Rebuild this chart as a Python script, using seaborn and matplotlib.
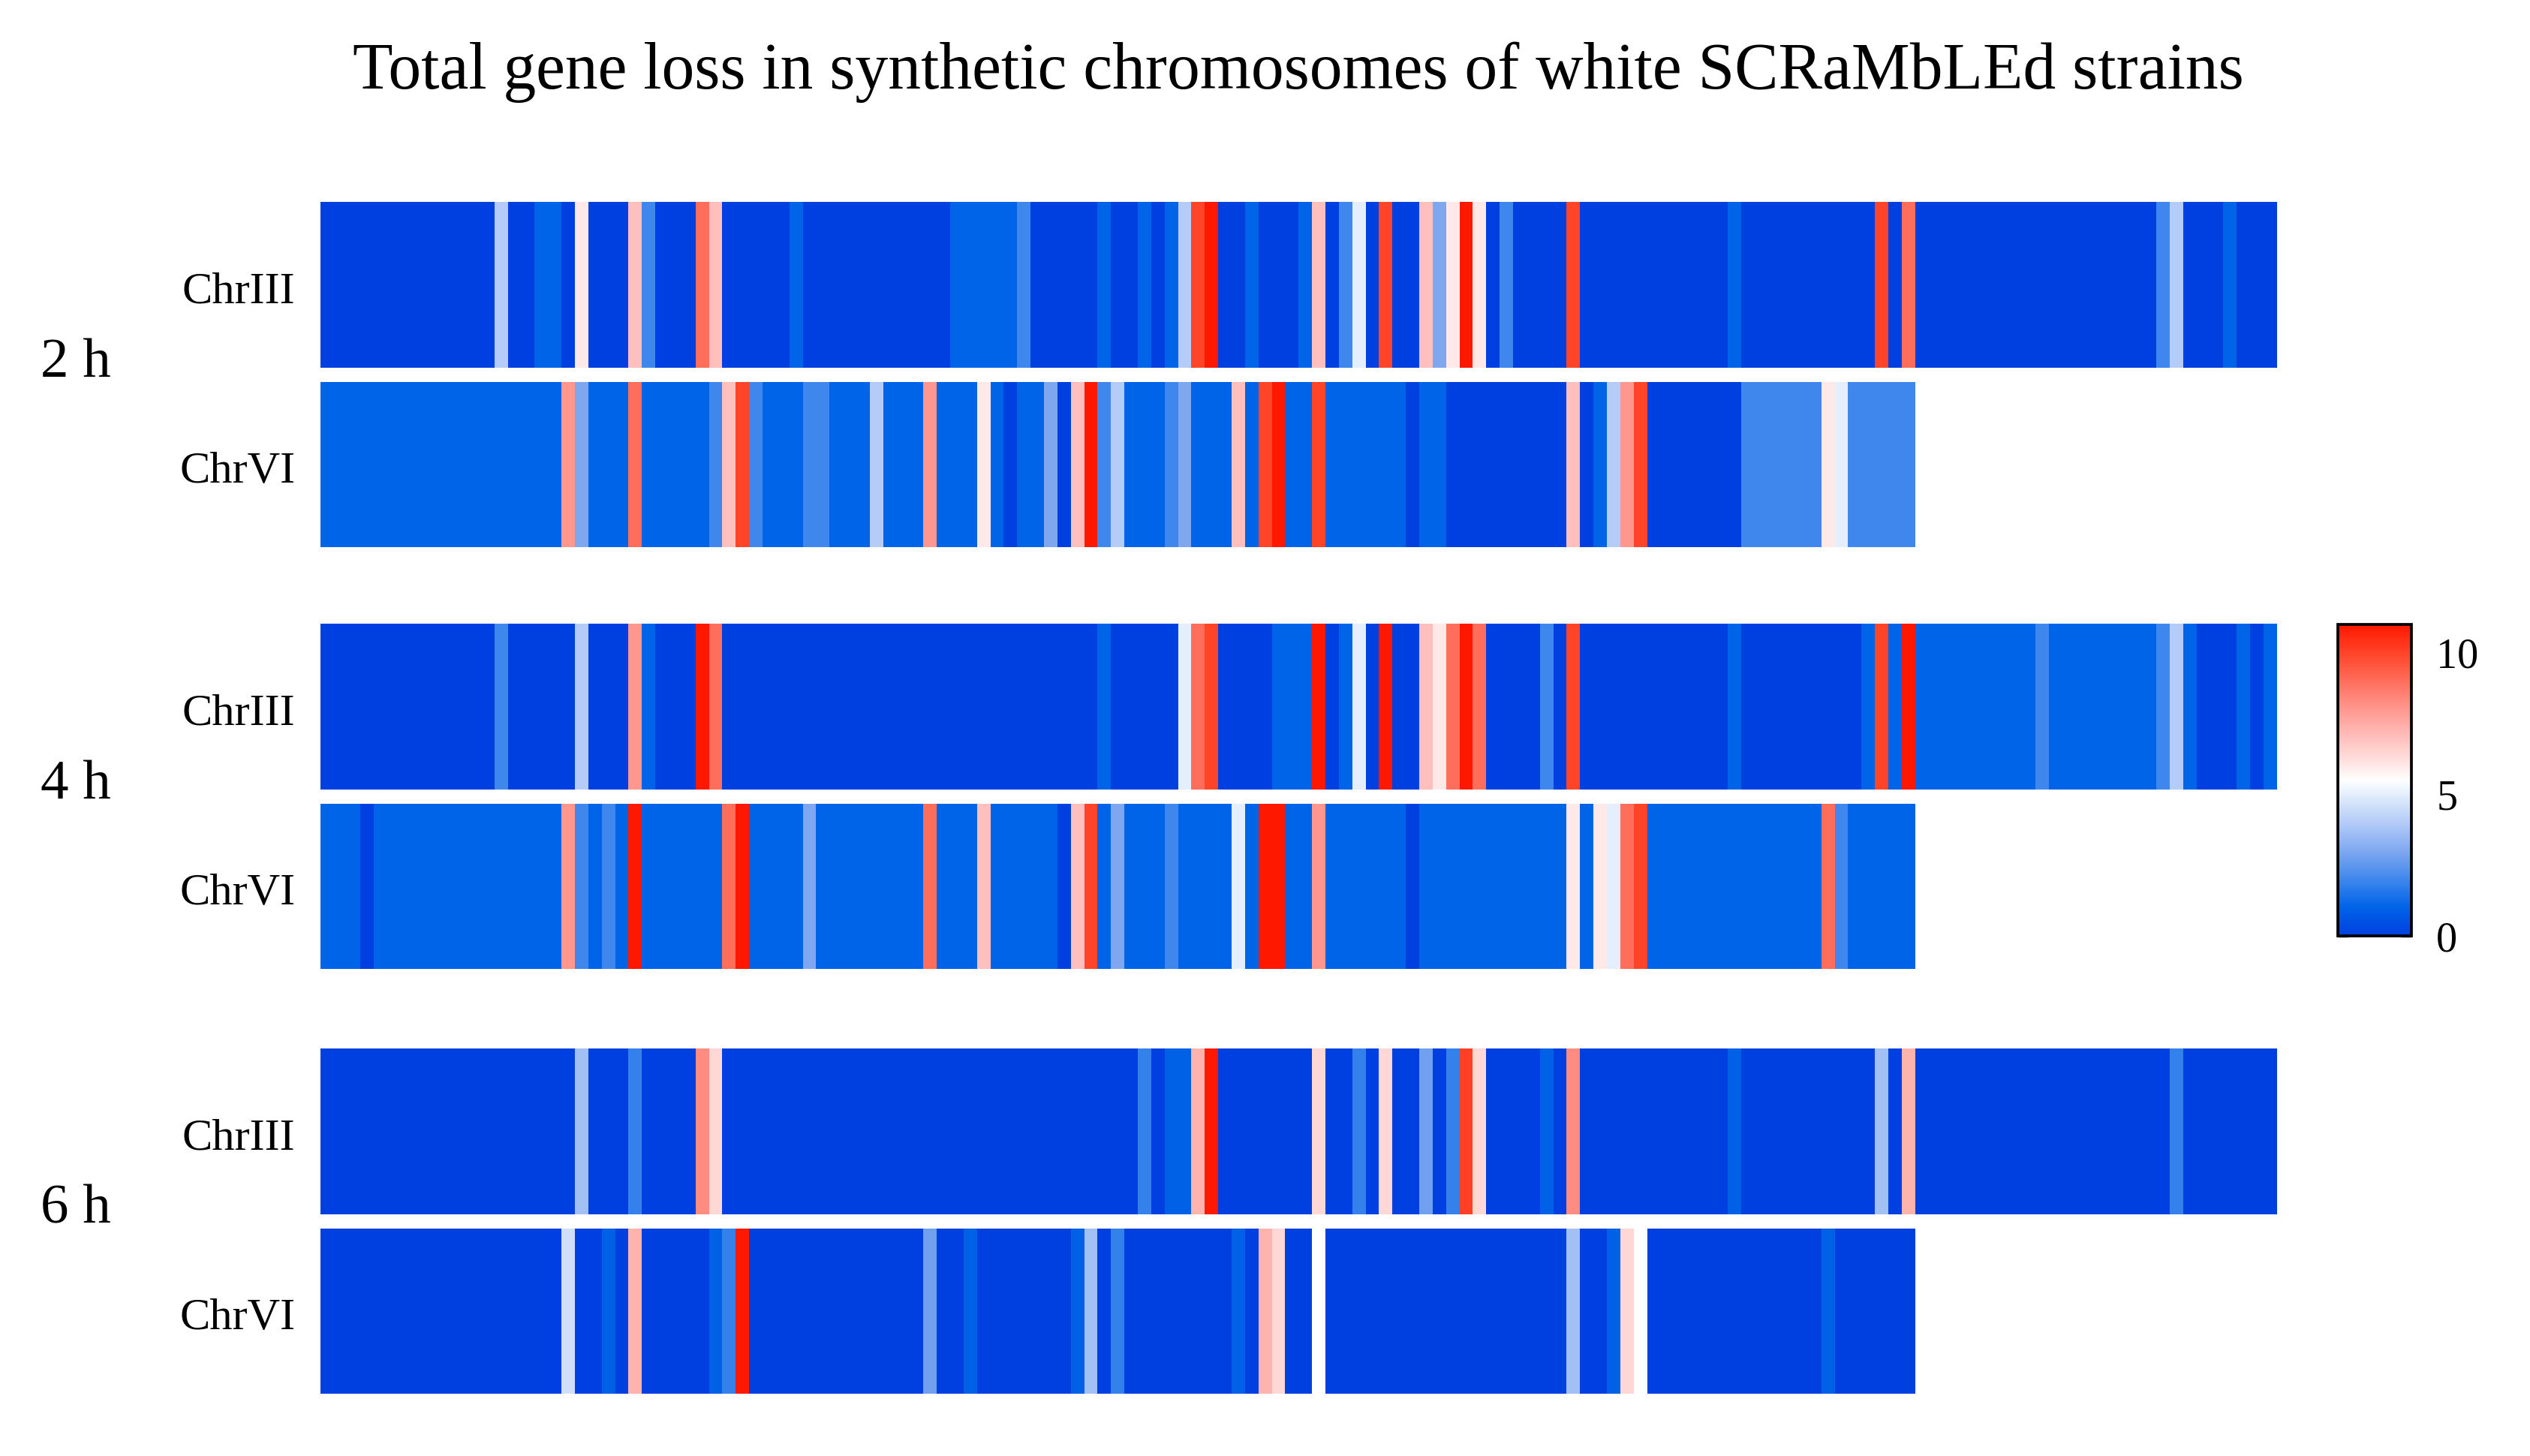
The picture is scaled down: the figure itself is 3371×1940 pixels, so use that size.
import pandas as pd
import matplotlib
matplotlib.use('Agg')
import matplotlib.pyplot as plt
import matplotlib.transforms as mtransforms
from matplotlib.colors import LinearSegmentedColormap
import seaborn as sns

sns.set_style('white')
plt.rcParams['font.family'] = ['Liberation Serif', 'DejaVu Serif']
plt.rcParams['text.color'] = 'black'
plt.rcParams['xtick.color'] = 'black'
plt.rcParams['ytick.color'] = 'black'
plt.rcParams['axes.labelcolor'] = 'black'

W, H = 3371, 1940
TITLE = 'Total gene loss in synthetic chromosomes of white SCRaMbLEd strains'

times = ['2 h', '4 h', '6 h']
chroms = ['ChrIII', 'ChrVI']
n_cols = 146  # ChrIII length, ChrVI (119) gets padded with NaN

# gene loss per position (number of strains)
chr3_2h = [0, 0, 0, 0, 0, 0, 0, 0, 0, 0,
           0, 0, 0, 4, 0, 0, 1, 1, 0, 6,
           0, 0, 0, 7, 2, 0, 0, 0, 9, 7,
           0, 0, 0, 0, 0, 1, 0, 0, 0, 0,
           0, 0, 0, 0, 0, 0, 0, 1, 1, 1,
           1, 1, 2, 0, 0, 0, 0, 0, 1, 0,
           0, 1, 0, 1, 4, 10, 11, 0, 0, 1,
           0, 0, 0, 1, 7, 0, 2, 5, 0, 10,
           0, 0, 7, 3, 6, 11, 6, 0, 2, 0,
           0, 0, 0, 10, 0, 0, 0, 0, 0, 0,
           0, 0, 0, 0, 0, 1, 0, 0, 0, 0,
           0, 0, 0, 0, 0, 0, 10, 0, 9, 0,
           0, 0, 0, 0, 0, 0, 0, 0, 0, 0,
           0, 0, 0, 0, 0, 0, 0, 2, 4, 0,
           0, 0, 1, 0, 0, 0]
chr6_2h = [1, 1, 1, 1, 1, 1, 1, 1, 1, 1,
           1, 1, 1, 1, 1, 1, 1, 1, 8, 3,
           1, 1, 1, 9, 1, 1, 1, 1, 1, 2,
           7, 10, 2, 1, 1, 1, 2, 2, 1, 1,
           1, 4, 1, 1, 1, 8, 1, 1, 1, 6,
           1, 0, 1, 1, 3, 0, 7, 11, 2, 4,
           1, 1, 1, 2, 3, 1, 1, 1, 7, 1,
           10, 11, 1, 1, 10, 1, 1, 1, 1, 1,
           1, 0, 1, 1, 0, 0, 0, 0, 0, 0,
           0, 0, 0, 7, 0, 1, 4, 8, 10, 0,
           0, 0, 0, 0, 0, 0, 2, 2, 2, 2,
           2, 2, 6, 5, 2, 2, 2, 2, 2]

chr3_4h = [0, 0, 0, 0, 0, 0, 0, 0, 0, 0,
           0, 0, 0, 2, 0, 0, 0, 0, 0, 4,
           0, 0, 0, 8, 1, 0, 0, 0, 11, 9,
           0, 0, 0, 0, 0, 0, 0, 0, 0, 0,
           0, 0, 0, 0, 0, 0, 0, 0, 0, 0,
           0, 0, 0, 0, 0, 0, 0, 0, 1, 0,
           0, 0, 0, 0, 5, 9, 10, 0, 0, 0,
           0, 1, 1, 1, 11, 0, 1, 5, 0, 11,
           0, 0, 7, 6, 9, 11, 9, 0, 0, 0,
           0, 2, 0, 10, 0, 0, 0, 0, 0, 0,
           0, 0, 0, 0, 0, 1, 0, 0, 0, 0,
           0, 0, 0, 0, 0, 1, 10, 1, 11, 1,
           1, 1, 1, 1, 1, 1, 1, 1, 2, 1,
           1, 1, 1, 1, 1, 1, 1, 2, 4, 1,
           0, 0, 0, 1, 0, 1]
chr6_4h = [1, 1, 1, 0, 1, 1, 1, 1, 1, 1,
           1, 1, 1, 1, 1, 1, 1, 1, 8, 2,
           1, 2, 1, 11, 1, 1, 1, 1, 1, 1,
           9, 11, 1, 1, 1, 1, 3, 1, 1, 1,
           1, 1, 1, 1, 1, 9, 1, 1, 1, 7,
           1, 1, 1, 1, 1, 0, 7, 10, 1, 3,
           1, 1, 1, 2, 1, 1, 1, 1, 5, 1,
           11, 11, 1, 1, 8, 1, 1, 1, 1, 1,
           1, 0, 1, 1, 1, 1, 1, 1, 1, 1,
           1, 1, 1, 6, 1, 6, 5, 9, 10, 1,
           1, 1, 1, 1, 1, 1, 1, 1, 1, 1,
           1, 1, 9, 2, 1, 1, 1, 1, 1]

chr3_6h = [0, 0, 0, 0, 0, 0, 0, 0, 0, 0,
           0, 0, 0, 0, 0, 0, 0, 0, 0, 4,
           0, 0, 0, 2, 0, 0, 0, 0, 9, 7,
           0, 0, 0, 0, 0, 0, 0, 0, 0, 0,
           0, 0, 0, 0, 0, 0, 0, 0, 0, 0,
           0, 0, 0, 0, 0, 0, 0, 0, 0, 0,
           0, 2, 0, 1, 1, 8, 12, 0, 0, 0,
           0, 0, 0, 0, 7, 0, 0, 2, 0, 7,
           0, 0, 3, 0, 2, 11, 7, 0, 0, 0,
           0, 1, 0, 9, 0, 0, 0, 0, 0, 0,
           0, 0, 0, 0, 0, 1, 0, 0, 0, 0,
           0, 0, 0, 0, 0, 0, 4, 0, 8, 0,
           0, 0, 0, 0, 0, 0, 0, 0, 0, 0,
           0, 0, 0, 0, 0, 0, 0, 0, 2, 0,
           0, 0, 0, 0, 0, 0]
chr6_6h = [0, 0, 0, 0, 0, 0, 0, 0, 0, 0,
           0, 0, 0, 0, 0, 0, 0, 0, 5, 0,
           0, 1, 0, 8, 0, 0, 0, 0, 0, 1,
           2, 12, 0, 0, 0, 0, 0, 0, 0, 0,
           0, 0, 0, 0, 0, 3, 0, 0, 1, 0,
           0, 0, 0, 0, 0, 0, 1, 4, 0, 2,
           0, 0, 0, 0, 0, 0, 0, 0, 1, 0,
           8, 7, 0, 0, 6, 0, 0, 0, 0, 0,
           0, 0, 0, 0, 0, 0, 0, 0, 0, 0,
           0, 0, 0, 4, 0, 0, 1, 7, 6, 0,
           0, 0, 0, 0, 0, 0, 0, 0, 0, 0,
           0, 0, 1, 0, 0, 0, 0, 0, 0]

data = {
    '2 h': [chr3_2h, chr6_2h],
    '4 h': [chr3_4h, chr6_4h],
    '6 h': [chr3_6h, chr6_6h],
}

# blue -> white -> red, same look as the original palette
cmap_hex = ['#0040E0', '#0064E8', '#4088EC', '#80A8F0', '#B4CCF8', '#E4EEFC', '#FFFFFF',
            '#FFE8E8', '#FFC0BC', '#FF9890', '#FF6E5C', '#FF4428', '#FF1800']
cmap_pos = [0, 1/11, 2/11, 3/11, 4/11, 5/11, 0.5, 6/11, 7/11, 8/11, 9/11, 10/11, 1]
cmap = LinearSegmentedColormap.from_list('loss', list(zip(cmap_pos, cmap_hex)))

fig = plt.figure(figsize=(W / 300, H / 300), dpi=300)

left_px, right_px = 426.7, 3033.8
row_h = 220.5
group_top = [269, 831, 1397]
row_step = 239.5

# nudge the row labels a touch downwards
label_shift = mtransforms.ScaledTranslation(0, -10 / 300, fig.dpi_scale_trans)

cbar_src = None
for g, t in enumerate(times):
    rows = data[t]
    vmax = max(max(r) for r in rows)
    for r, chrom in enumerate(chroms):
        top = group_top[g] + r * row_step
        ax = fig.add_axes([left_px / W, 1 - (top + row_h) / H,
                           (right_px - left_px) / W, row_h / H])
        vals = pd.Series(rows[r], dtype=float).reindex(range(n_cols))
        df = pd.DataFrame([vals.values], index=[chrom])
        sns.heatmap(df, ax=ax, cmap=cmap, vmin=0, vmax=vmax, cbar=False,
                    xticklabels=False, yticklabels=True)
        ax.set_yticklabels([chrom], rotation=0, fontsize=14.5, color='black')
        ax.tick_params(axis='y', length=0, pad=8)
        for lab in ax.get_yticklabels():
            lab.set_transform(lab.get_transform() + label_shift)
        ax.set_xlabel('')
        ax.set_ylabel('')
        if t == '4 h' and r == 0:
            cbar_src = ax.collections[0]
    # baseline of the time label sits a little below the group middle
    fig.text(54 / W, 1 - (group_top[g] + 233) / H, t, fontsize=18,
             ha='left', va='baseline', color='black')

fig.text((left_px + right_px) / 2 / W, 1 - 118 / H, TITLE,
         fontsize=21, ha='center', va='baseline', color='black')

cax = fig.add_axes([3115 / W, 1 - 1247 / H, 98 / W, 415 / H])
cbar = fig.colorbar(cbar_src, cax=cax, ticks=[0, 5, 10])
cbar.ax.tick_params(direction='in', length=3.4, width=0.8, labelsize=13.5, pad=8,
                    left=True, right=True, labelleft=False, labelright=True,
                    colors='black')
cbar.outline.set_linewidth(0.9)
cbar.outline.set_edgecolor('black')

fig.savefig('out.png', dpi=300)
